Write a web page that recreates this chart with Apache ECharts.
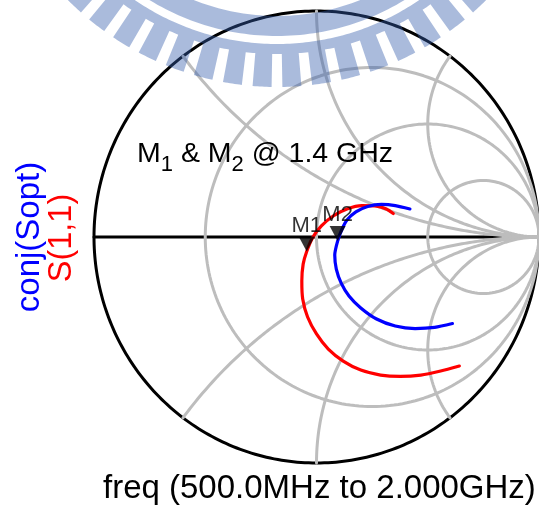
<!DOCTYPE html>
<html>
<head>
<meta charset="utf-8">
<script src="https://cdn.jsdelivr.net/npm/echarts@6/dist/echarts.min.js"></script>
<style>
  html, body { margin: 0; padding: 0; background: #ffffff; }
  #chart { width: 539px; height: 508px; }
</style>
</head>
<body>
<div id="chart"></div>
<script>
// Reflection coefficients (real / imaginary), swept 500 MHz -> 2 GHz
const s11Re = [0.642, 0.558, 0.469, 0.376, 0.288, 0.199, 0.120, 0.053, 0.000, -0.040, -0.062, -0.066, -0.060, -0.044, -0.018, 0.022, 0.075, 0.137, 0.204, 0.270, 0.314, 0.345];
const s11Im = [-0.571, -0.593, -0.611, -0.617, -0.611, -0.589, -0.549, -0.496, -0.429, -0.354, -0.274, -0.195, -0.120, -0.064, -0.004, 0.049, 0.093, 0.124, 0.139, 0.137, 0.124, 0.104];
const soptRe = [0.611, 0.531, 0.443, 0.354, 0.270, 0.199, 0.146, 0.111, 0.089, 0.082, 0.095, 0.113, 0.137, 0.177, 0.230, 0.292, 0.354, 0.420];
const soptIm = [-0.383, -0.400, -0.405, -0.394, -0.363, -0.314, -0.261, -0.204, -0.142, -0.080, -0.018, 0.031, 0.075, 0.111, 0.135, 0.144, 0.139, 0.124];

// Markers at 1.4 GHz: M1 on S(1,1), M2 on conj(Sopt) (index into the sweeps)
const markerNames = ['M1', 'M2'];
const markerIndex = [13, 10];

// Smith chart grid: constant-resistance circles and constant-reactance arcs
const resistanceValues = [1 / 3, 1, 3];
const reactanceValues = [0.5, 1, 2, -0.5, -1, -2];

const s11Name = 'S(1,1)';
const soptName = 'conj(Sopt)';
const sweepLabel = 'freq (500.0MHz to 2.000GHz)';
const noteParts = ['M', '1', ' & M', '2', ' @ 1.4 GHz'];

const FONT = '"Liberation Sans", Arial, sans-serif';
const GRID_GRAY = '#bdbdbd';

function circlePoints(cx, cy, rad, n) {
  const pts = [];
  for (let i = 0; i <= n; i++) {
    const a = (i / n) * 2 * Math.PI;
    pts.push([cx + rad * Math.cos(a), cy + rad * Math.sin(a)]);
  }
  return pts;
}

function resistanceCircle(r) {
  return circlePoints(r / (1 + r), 0, 1 / (1 + r), 240);
}

function reactanceArc(x) {
  const ax = Math.abs(x);
  const cy = 1 / ax, rad = 1 / ax;
  const px = (ax * ax - 1) / (ax * ax + 1), py = 2 * ax / (ax * ax + 1);
  const a0 = 1.5 * Math.PI;
  let a1 = Math.atan2(py - cy, px - 1);
  if (a1 < 0) a1 += 2 * Math.PI;
  const pts = [], n = 160, sgn = x < 0 ? -1 : 1;
  for (let i = 0; i <= n; i++) {
    const a = a0 + (a1 - a0) * i / n;
    pts.push([1 + rad * Math.cos(a), sgn * (cy + rad * Math.sin(a))]);
  }
  return pts;
}

function lineSeries(data, color, width, z, smooth) {
  return {
    type: 'line', data, z, smooth: smooth || false, clip: false,
    symbol: 'none', showSymbol: false, silent: true,
    lineStyle: { color, width, cap: 'round', join: 'round' }
  };
}

const series = [];
// outer boundary and real axis
series.push(lineSeries(circlePoints(0, 0, 1, 360), '#000000', 3, 1));
series.push(lineSeries([[-1, 0], [1, 0]], '#000000', 3, 1));
resistanceValues.forEach(r => series.push(lineSeries(resistanceCircle(r), GRID_GRAY, 3, 2)));
reactanceValues.forEach(x => series.push(lineSeries(reactanceArc(x), GRID_GRAY, 3, 2)));

const s11Data = s11Re.map((v, i) => [v, s11Im[i]]);
const soptData = soptRe.map((v, i) => [v, soptIm[i]]);
series.push(lineSeries(s11Data, '#ff0000', 3.2, 3, 0.25));
series.push(lineSeries(soptData, '#0000ff', 3.2, 3, 0.25));

const markerCurves = [s11Data, soptData];
series.push({
  type: 'scatter', z: 5, silent: true, clip: false,
  data: markerNames.map((n, i) => ({ name: n, value: markerCurves[i][markerIndex[i]] })),
  symbol: 'triangle', symbolRotate: 180, symbolSize: [16, 15], symbolOffset: [0, '-50%'],
  itemStyle: { color: '#000000' },
  label: {
    show: true, formatter: '{b}', position: 'top', distance: 0,
    fontSize: 22, fontFamily: FONT, color: '#000000'
  }
});

// text helpers
const measureCtx = document.createElement('canvas').getContext('2d');
function textWidth(t, size) {
  measureCtx.font = size + 'px ' + FONT;
  return measureCtx.measureText(t).width;
}
// place text by its alphabetic baseline (drawn with middle alignment)
function textAt(t, x, baseline, size, color, align, rotation) {
  return {
    type: 'text', x, y: baseline, rotation: rotation || 0, z: 50, silent: true,
    style: {
      text: t, x: 0, y: -0.3465 * size, fill: color,
      font: size + 'px ' + FONT,
      align: align || 'left', verticalAlign: 'middle',
      textAlign: align || 'left', textVerticalAlign: 'middle'
    }
  };
}

const graphics = [];
// note with subscripts
let nx = 137;
noteParts.forEach((p, i) => {
  const sub = i % 2 === 1;
  const size = sub ? 22 : 28.5;
  graphics.push(textAt(p, nx, sub ? 173 : 164, size, '#000000', 'left'));
  nx += textWidth(p, size);
});
graphics.push(textAt(sweepLabel, 103, 500, 33, '#000000', 'left'));
// rotated legend labels (read bottom to top)
graphics.push(textAt(soptName, 41, 237, 33, '#0000ff', 'center', Math.PI / 2));
graphics.push(textAt(s11Name, 73, 238, 32.5, '#ff0000', 'center', Math.PI / 2));

// emblem band across the top edge
const EMB = { cx: 277, cy: -208 };
function polar(r, deg) {
  const a = deg * Math.PI / 180;
  return [EMB.cx + r * Math.cos(a), EMB.cy + r * Math.sin(a)];
}
function arc(r, d0, d1, n) {
  const pts = [];
  for (let i = 0; i <= n; i++) pts.push(polar(r, d0 + (d1 - d0) * i / n));
  return pts;
}
const bandOuter = arc(244, 25, 155, 120);
const bandInner = arc(224, 155, 25, 120);
const upperBand = bandOuter.concat(bandInner);

const period = 5.8, gapW = 2.1;
const teethCount = 10;
const aStart = 90 - period * teethCount, aEnd = 90 + period * teethCount;
let toothShape = [polar(252, aStart)];
for (let k = 0; k < 2 * teethCount; k++) {
  const g = aStart + k * period;            // gap centre
  const t0 = g + gapW / 2, t1 = g + period - gapW / 2;
  toothShape = toothShape.concat(arc(262, g, t0, 2));
  toothShape = toothShape.concat(arc(295, t0, t1, 8));
  toothShape = toothShape.concat(arc(262, t1, g + period, 2));
}
toothShape = toothShape.concat(arc(252, aEnd, aStart, 160));

const embFill = 'rgba(52,93,171,0.42)';
graphics.push({ type: 'polygon', z: 100, silent: true, shape: { points: upperBand }, style: { fill: embFill } });
graphics.push({ type: 'polygon', z: 100, silent: true, shape: { points: toothShape }, style: { fill: embFill } });

const chart = echarts.init(document.getElementById('chart'), null, { renderer: 'canvas' });
chart.setOption({
  animation: false,
  backgroundColor: '#ffffff',
  grid: { left: 94, top: 11, width: 452, height: 452, containLabel: false },
  xAxis: { type: 'value', min: -1, max: 1, show: false },
  yAxis: { type: 'value', min: -1, max: 1, show: false },
  series,
  graphic: { elements: graphics }
});
</script>
</body>
</html>
